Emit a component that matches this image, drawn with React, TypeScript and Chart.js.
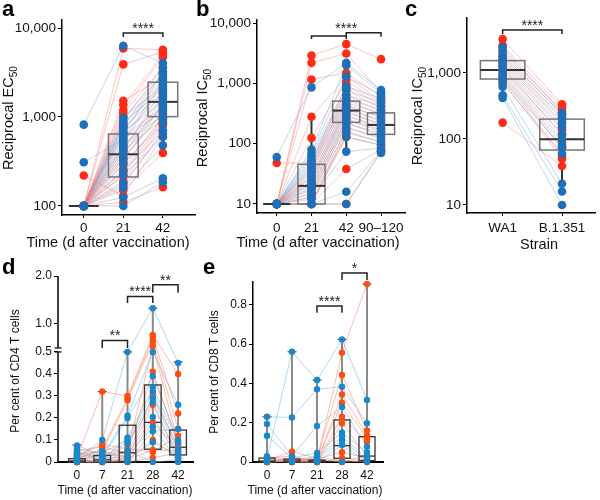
import React, { useEffect, useRef } from "react";
import { Chart, registerables } from "chart.js";
Chart.register(...registerables);

const FONT = "'Liberation Sans', Arial, Helvetica, sans-serif";

// ---------------- Panel a : reciprocal EC50 ----------------
const aTimes = ["0", "21", "42"];
const aRed0 = [100, 100, 100, 100, 100, 100, 100, 100, 100, 100, 100, 100, 100, 100, 100, 100, 100, 100, 100, 100, 100, 100, 220, 100];
const aRed21 = [5900, 3900, 1520, 1360, 1200, 1100, 1000, 800, 650, 560, 480, 420, 380, 350, 320, 290, 260, 240, 220, 190, 170, 150, 130, 110];
const aRed42 = [5700, 5400, 2800, 5000, 4700, 3600, 2200, 3200, 1800, 2500, 1250, 2000, 1600, 1100, 1400, 950, 1000, 900, 850, 800, 700, 395, 600, 163];
const aBlue0 = [820, 100, 100, 100, 100, 100, 100, 100, 100, 100, 310, 100, 100, 100, 100, 100, 100, 100, 100, 100, 100, 100, 100, 100];
const aBlue21 = [6300, 980, 900, 850, 800, 760, 720, 680, 640, 600, 560, 520, 480, 450, 420, 380, 340, 300, 250, 220, 180, 160, 125, 100];
const aBlue42 = [4050, 3000, 3600, 2100, 2700, 1900, 2500, 1500, 3200, 1300, 1200, 2300, 1050, 1700, 950, 1400, 1150, 850, 700, 600, 650, 480, 205, 185];
const aQ1 = [100, 212, 1010];
const aMed = [100, 381, 1480];
const aQ3 = [100, 645, 2460];
const aLo = [100, 100, 420];
const aHi = [100, 1550, 5800];
const aTickVals = [100, 1000, 10000];
const aTickLabels = ["100", "1,000", "10,000"];

// ---------------- Panel b : reciprocal IC50 ----------------
const bTimes = ["0", "21", "42", "90\u2013120"];
const bRed0 = [10, 10, 10, 10, 10, 48, 10, 10, 10, 10, 10, 10, 10, 10, 10, 10, 10, 10, 10, 10];
const bRed21 = [2900, 2200, 1160, 280, 125, 48, 42, 38, 33, 28, 24, 22, 18, 15, 13, 10, 10, 10, 10, 10];
const bRed42 = [4500, 3150, 1500, 1300, 1100, 950, 800, 650, 550, 450, 400, 350, 300, 260, 220, 180, 150, 130, 38, 10];
const bRed90 = [2530, 700, 600, 520, 480, 420, 380, 340, 300, 270, 240, 210, 190, 170, 150, 130, 110, 95, 80, 75];
const bBlue0 = [60, 10, 10, 10, 10, 10, 10, 10, 10, 10, 10, 10, 10, 10, 10, 10, 10, 10, 10, 10];
const bBlue21 = [860, 80, 70, 62, 55, 50, 45, 40, 35, 30, 27, 24, 21, 19, 17, 15, 13, 12, 10, 10];
const bBlue42 = [2200, 2000, 1300, 900, 780, 650, 560, 480, 420, 370, 330, 290, 250, 220, 190, 160, 130, 74, 16, 10];
const bBlue90 = [780, 700, 650, 560, 480, 420, 360, 320, 280, 240, 210, 180, 160, 140, 120, 105, 95, 85, 75, 70];
const bQ1 = [10, 10, 226, 143];
const bMed = [10, 20, 355, 205];
const bQ3 = [10, 45.5, 510, 325];
const bLo = [10, 10, 74, 70];
const bHi = [10, 270, 2200, 780];
const bTickVals = [10, 100, 1000, 10000];
const bTickLabels = ["10", "100", "1,000", "10,000"];

// ---------------- Panel c : strain ----------------
const cStrains = ["WA1", "B.1.351"];
const cRedWA1 = [3260, 2600, 2200, 1900, 1700, 1500, 1300, 1150, 1000, 900, 840, 760, 177];
const cRedB = [335, 300, 270, 240, 200, 170, 137, 120, 90, 73, 55, 50, 39];
const cBlueWA1 = [2450, 2100, 1800, 1600, 1400, 1250, 1100, 950, 800, 700, 620, 460, 420];
const cBlueB = [250, 230, 210, 180, 150, 115, 100, 80, 75, 60, 21, 16, 10];
const cQ1 = [810, 68];
const cMed = [1110, 99];
const cQ3 = [1540, 200];
const cLo = [420, 18];
const cHi = [3260, 335];
const cTickVals = [10, 100, 1000];
const cTickLabels = ["10", "100", "1,000"];

// ---------------- Panel d : CD4 T cells ----------------
const dTimes = ["0", "7", "21", "28", "42"];
const dRed0 = [0.02, 0.01, 0.03, 0.0, 0.05, 0.02, 0.01, 0.0, 0.03, 0.0, 0.04, 0.01];
const dRed7 = [0.32, 0.06, 0.05, 0.04, 0.07, 0.03, 0.02, 0.01, 0.08, 0.0, 0.05, 0.0];
const dRed21 = [0.3, 0.29, 0.28, 0.05, 0.04, 0.03, 0.02, 0.01, 0.06, 0.0, 0.02, 0.01];
const dRed28 = [0.77, 0.71, 0.63, 0.54, 0.41, 0.3, 0.18, 0.055, 0.045, 0.02, 0.26, 0.1];
const dRed42 = [0.4, 0.22, 0.15, 0.09, 0.08, 0.07, 0.06, 0.05, 0.12, 0.04, 0.03, 0.02];
const dBlue0 = [0.02, 0.075, 0.05, 0.03, 0.06, 0.04, 0.01, 0.0, 0.02, 0.0, 0.035, 0.015];
const dBlue7 = [0.1, 0.03, 0.02, 0.01, 0.04, 0.02, 0.0, 0.01, 0.05, 0.0, 0.02, 0.0];
const dBlue21 = [0.5, 0.21, 0.2, 0.11, 0.1, 0.09, 0.08, 0.03, 0.0, 0.01, 0.05, 0.02];
const dBlue28 = [1.33, 0.5, 0.39, 0.34, 0.32, 0.29, 0.27, 0.205, 0.14, 0.09, 0.0, 0.16];
const dBlue42 = [0.45, 0.26, 0.1, 0.09, 0.06, 0.05, 0.01, 0.02, 0.15, 0.03, 0.01, 0.0];
const dQ1 = [0, 0, 0, 0.058, 0.032];
const dMed = [0.005, 0.01, 0.042, 0.18, 0.067];
const dQ3 = [0.015, 0.03, 0.167, 0.35, 0.145];
const dLo = [0, 0, 0, 0, 0];
const dHi = [0.077, 0.32, 0.5, 1.33, 0.455];
const dTickVals = [0, 0.1, 0.2, 0.3, 0.4, 0.5, 1.0, 2.0];
const dTickLabels = ["0", "0.1", "0.2", "0.3", "0.4", "0.5", "1.0", "2.0"];

// ---------------- Panel e : CD8 T cells ----------------
const eTimes = ["0", "7", "21", "28", "42"];
const eRed0 = [0.0, 0.01, 0.02, 0.005, 0.0, 0.015, 0.0, 0.01, 0.0, 0.005];
const eRed7 = [0.01, 0.052, 0.03, 0.02, 0.01, 0.0, 0.005, 0.0, 0.015, 0.0];
const eRed21 = [0.01, 0.02, 0.0, 0.01, 0.005, 0.0, 0.015, 0.0, 0.005, 0.01];
const eRed28 = [0.556, 0.443, 0.344, 0.302, 0.23, 0.197, 0.05, 0.02, 0.01, 0.0];
const eRed42 = [0.906, 0.16, 0.137, 0.12, 0.103, 0.03, 0.02, 0.01, 0.0, 0.005];
const eBlue0 = [0.02, 0.23, 0.193, 0.134, 0.03, 0.01, 0.0, 0.02];
const eBlue7 = [0.561, 0.227, 0.03, 0.02, 0.01, 0.0, 0.015, 0.005];
const eBlue21 = [0.417, 0.37, 0.183, 0.046, 0.02, 0.01, 0.0, 0.03];
const eBlue28 = [0.624, 0.383, 0.28, 0.15, 0.13, 0.11, 0.087, 0.0];
const eBlue42 = [0.316, 0.197, 0.078, 0.05, 0.02, 0.01, 0.0, 0.03];
const eQ1 = [0, 0, 0, 0.019, 0.007];
const eMed = [0.005, 0.005, 0.005, 0.083, 0.03];
const eQ3 = [0.02, 0.015, 0.01, 0.214, 0.129];
const eLo = [0, 0, 0, 0, 0];
const eHi = [0.23, 0.561, 0.417, 0.624, 0.906];
const eTickVals = [0, 0.2, 0.4, 0.6, 0.8];
const eTickLabels = ["0", "0.2", "0.4", "0.6", "0.8"];

// broken-axis transform for panel d (linear below 0.5, compressed above)
const D_GAP = 0.018;
const D_K = 0.218;
const dMap = (v: number) => (v <= 0.5 ? v : 0.5 + D_GAP + (v - 0.5) * D_K);
const ident = (v: number) => v;

type Bracket = { from: number; to: number; y: number; drop: number; text: string; textAt?: number };
type Spec = {
  left: number; top: number; width: number; height: number;
  area: { l: number; t: number; r: number; b: number };
  xLabels: string[]; xMin: number; xMax: number; xTickPad: number;
  yLog: boolean; yMin: number; yMax: number; yTickVals: number[]; yTickLabels: string[];
  yMap: (v: number) => number; broken?: boolean;
  red: number[][]; blue: number[][];
  q1: number[]; med: number[]; q3: number[]; lo: number[]; hi: number[];
  boxW: number; style: "top" | "bottom";
  brackets: Bracket[];
  letter: string; letterXY: [number, number];
  yTitle: string; yTitleSub: string; yTitleXY: [number, number];
  xTitle: string; xTitleXY: [number, number];
  tickSize: number; titleSize: number;
  ptR: number; redColor: string; blueColor: string; redLine: string; blueLine: string;
};

const TOP_RED = "#FF2B14";
const TOP_BLUE = "#1D6FB8";
const TOP_RED_LINE = "rgba(250,120,110,0.42)";
const TOP_BLUE_LINE = "rgba(100,165,220,0.42)";
const BOT_RED = "#FF4D12";
const BOT_BLUE = "#1B87CB";
const BOT_RED_LINE = "rgba(250,135,105,0.55)";
const BOT_BLUE_LINE = "rgba(120,190,232,0.6)";

const specs: Spec[] = [
  {
    left: 0, top: 0, width: 200, height: 250, area: { l: 62, t: 20, r: 197, b: 215 },
    xLabels: aTimes, xMin: -0.55, xMax: 2.83, xTickPad: 2,
    yLog: true, yMin: 79.2, yMax: 12300, yTickVals: aTickVals, yTickLabels: aTickLabels, yMap: ident,
    red: [aRed0, aRed21, aRed42], blue: [aBlue0, aBlue21, aBlue42],
    q1: aQ1, med: aMed, q3: aQ3, lo: aLo, hi: aHi, boxW: 0.75, style: "top",
    brackets: [{ from: 1, to: 2, y: 8790, drop: 4, text: "****" }],
    letter: "a", letterXY: [2, 16],
    yTitle: "Reciprocal EC", yTitleSub: "50", yTitleXY: [9, 118],
    xTitle: "Time (d after vaccination)", xTitleXY: [108, 243],
    tickSize: 13.5, titleSize: 14.5,
    ptR: 4.3, redColor: TOP_RED, blueColor: TOP_BLUE, redLine: TOP_RED_LINE, blueLine: TOP_BLUE_LINE,
  },
  {
    left: 190, top: 0, width: 220, height: 250, area: { l: 67, t: 20, r: 218, b: 213 },
    xLabels: bTimes, xMin: -0.567, xMax: 3.71, xTickPad: 4,
    yLog: true, yMin: 7.09, yMax: 11300, yTickVals: bTickVals, yTickLabels: bTickLabels, yMap: ident,
    red: [bRed0, bRed21, bRed42, bRed90], blue: [bBlue0, bBlue21, bBlue42, bBlue90],
    q1: bQ1, med: bMed, q3: bQ3, lo: bLo, hi: bHi, boxW: 0.78, style: "top",
    brackets: [
      { from: 1, to: 2, y: 6110, drop: 3, text: "" },
      { from: 2, to: 3, y: 6920, drop: 4, text: "****", textAt: 2 },
    ],
    letter: "b", letterXY: [6, 16],
    yTitle: "Reciprocal IC", yTitleSub: "50", yTitleXY: [13, 118],
    xTitle: "Time (d after vaccination)", xTitleXY: [128, 243],
    tickSize: 13.5, titleSize: 14.5,
    ptR: 4.3, redColor: TOP_RED, blueColor: TOP_BLUE, redLine: TOP_RED_LINE, blueLine: TOP_BLUE_LINE,
  },
  {
    left: 400, top: 0, width: 200, height: 250, area: { l: 67, t: 18, r: 197, b: 213 },
    xLabels: cStrains, xMin: -0.6, xMax: 1.567, xTickPad: 4,
    yLog: true, yMin: 7.56, yMax: 6810, yTickVals: cTickVals, yTickLabels: cTickLabels, yMap: ident,
    red: [cRedWA1, cRedB], blue: [cBlueWA1, cBlueB],
    q1: cQ1, med: cMed, q3: cQ3, lo: cLo, hi: cHi, boxW: 0.75, style: "top",
    brackets: [{ from: 0, to: 1, y: 4480, drop: 4, text: "****" }],
    letter: "c", letterXY: [5, 16],
    yTitle: "Reciprocal IC", yTitleSub: "50", yTitleXY: [18, 116],
    xTitle: "Strain", xTitleXY: [139, 245],
    tickSize: 13.5, titleSize: 14.5,
    ptR: 4.3, redColor: TOP_RED, blueColor: TOP_BLUE, redLine: TOP_RED_LINE, blueLine: TOP_BLUE_LINE,
  },
  {
    left: 0, top: 250, width: 200, height: 250, area: { l: 58, t: 26, r: 193, b: 212 },
    xLabels: dTimes, xMin: -0.75, xMax: 4.59, xTickPad: 3,
    yLog: false, yMin: 0, yMax: dMap(2.0), yTickVals: dTickVals, yTickLabels: dTickLabels, yMap: dMap, broken: true,
    red: [dRed0, dRed7, dRed21, dRed28, dRed42], blue: [dBlue0, dBlue7, dBlue21, dBlue28, dBlue42],
    q1: dQ1, med: dMed, q3: dQ3, lo: dLo, hi: dHi, boxW: 0.66, style: "bottom",
    brackets: [
      { from: 1, to: 2, y: 0.656, drop: 7.5, text: "**" },
      { from: 2, to: 3, y: 1.573, drop: 6.5, text: "****" },
      { from: 3, to: 4, y: 1.817, drop: 8, text: "**" },
    ],
    letter: "d", letterXY: [2, 24],
    yTitle: "Per cent of CD4 T cells", yTitleSub: "", yTitleXY: [16, 121],
    xTitle: "Time (d after vaccination)", xTitleXY: [125, 241],
    tickSize: 12, titleSize: 12,
    ptR: 3.2, redColor: BOT_RED, blueColor: BOT_BLUE, redLine: BOT_RED_LINE, blueLine: BOT_BLUE_LINE,
  },
  {
    left: 195, top: 250, width: 205, height: 250, area: { l: 58, t: 32, r: 188, b: 212 },
    xLabels: eTimes, xMin: -0.56, xMax: 4.64, xTickPad: 3,
    yLog: false, yMin: 0, yMax: 0.916, yTickVals: eTickVals, yTickLabels: eTickLabels, yMap: ident,
    red: [eRed0, eRed7, eRed21, eRed28, eRed42], blue: [eBlue0, eBlue7, eBlue21, eBlue28, eBlue42],
    q1: eQ1, med: eMed, q3: eQ3, lo: eLo, hi: eHi, boxW: 0.64, style: "bottom",
    brackets: [
      { from: 2, to: 3, y: 0.794, drop: 6.7, text: "****" },
      { from: 3, to: 4, y: 0.962, drop: 7, text: "*" },
    ],
    letter: "e", letterXY: [8, 24],
    yTitle: "Per cent of CD8 T cells", yTitleSub: "", yTitleXY: [20, 122],
    xTitle: "Time (d after vaccination)", xTitleXY: [120, 241],
    tickSize: 12, titleSize: 12,
    ptR: 3.2, redColor: BOT_RED, blueColor: BOT_BLUE, redLine: BOT_RED_LINE, blueLine: BOT_BLUE_LINE,
  },
];

function line(ctx: CanvasRenderingContext2D, x1: number, y1: number, x2: number, y2: number) {
  ctx.beginPath();
  ctx.moveTo(x1, y1);
  ctx.lineTo(x2, y2);
  ctx.stroke();
}

function Panel({ s }: { s: Spec }) {
  const ref = useRef<HTMLCanvasElement>(null);
  useEffect(() => {
    const canvas = ref.current!;
    const datasets: any[] = [];
    const addLines = (ser: number[][], color: string) => {
      const n = ser[0].length;
      for (let i = 0; i < n; i++) {
        datasets.push({
          data: ser.map((arr, k) => ({ x: k, y: s.yMap(arr[i]) })),
          showLine: true, borderColor: color, borderWidth: 1, pointRadius: 0, pointHoverRadius: 0,
          clip: false, order: 5,
        });
      }
    };
    addLines(s.red, s.redLine);
    addLines(s.blue, s.blueLine);
    const pts = (ser: number[][]) => ser.flatMap((arr, k) => arr.map((v) => ({ x: k, y: s.yMap(v) })));
    const redIdx = datasets.length;
    datasets.push({ data: pts(s.red), backgroundColor: s.redColor, pointRadius: s.ptR, pointBorderWidth: 0, borderWidth: 0, clip: false, order: 1 });
    datasets.push({ data: pts(s.blue), backgroundColor: s.blueColor, pointRadius: s.ptR, pointBorderWidth: 0, borderWidth: 0, clip: false, order: 0 });

    const drawBoxes = (chart: any) => {
      const ctx: CanvasRenderingContext2D = chart.ctx;
      const x = chart.scales.x;
      const y = chart.scales.y;
      const Y = (v: number) => y.getPixelForValue(s.yMap(v));
      ctx.save();
      s.med.forEach((m, i) => {
        const cx = x.getPixelForValue(i);
        const hw = x.getPixelForValue(i + s.boxW / 2) - cx;
        const yq1 = Y(s.q1[i]), yq3 = Y(s.q3[i]), ym = Y(m), ylo = Y(s.lo[i]), yhi = Y(s.hi[i]);
        if (s.style === "top") {
          ctx.strokeStyle = "#333"; ctx.lineWidth = 2;
          if (yhi < yq3) line(ctx, cx, yq3, cx, yhi);
          if (ylo > yq1) line(ctx, cx, yq1, cx, ylo);
          ctx.strokeStyle = "#757575"; ctx.lineWidth = 1.5;
          ctx.strokeRect(cx - hw, yq3, 2 * hw, yq1 - yq3);
          ctx.strokeStyle = "#333"; ctx.lineWidth = 2;
          line(ctx, cx - hw, ym, cx + hw, ym);
        } else {
          ctx.strokeStyle = "#8a8a8a"; ctx.lineWidth = 2;
          line(ctx, cx, ylo, cx, yhi);
          ctx.strokeStyle = "#555"; ctx.lineWidth = 1.2;
          line(ctx, cx - 4.5, yhi, cx + 4.5, yhi);
          ctx.strokeStyle = "#333"; ctx.lineWidth = 1.3;
          ctx.strokeRect(cx - hw, yq3, 2 * hw, yq1 - yq3);
          line(ctx, cx - hw, ym, cx + hw, ym);
        }
      });
      ctx.restore();
    };

    const plugin = {
      id: "extras" + s.letter,
      beforeDatasetDraw(chart: any, args: any) {
        if (args.index === redIdx) drawBoxes(chart);
      },
      afterDraw(chart: any) {
        const ctx: CanvasRenderingContext2D = chart.ctx;
        const x = chart.scales.x;
        const y = chart.scales.y;
        ctx.save();
        if (s.broken) {
          const ax = chart.chartArea.left;
          ctx.strokeStyle = "#000"; ctx.lineWidth = 1.5;
          const yb = y.getPixelForValue(0), y05 = y.getPixelForValue(0.5);
          const yg = y.getPixelForValue(0.5 + D_GAP), ytop = y.getPixelForValue(dMap(2.0));
          line(ctx, ax, yb, ax, y05);
          line(ctx, ax, yg, ax, ytop);
          ctx.lineWidth = 1.2;
          line(ctx, ax - 3.5, y05, ax + 3.5, y05);
          line(ctx, ax - 3.5, yg, ax + 3.5, yg);
        }
        for (const br of s.brackets) {
          const x1 = x.getPixelForValue(br.from), x2 = x.getPixelForValue(br.to);
          const yy = y.getPixelForValue(s.yMap(br.y));
          ctx.strokeStyle = "#222"; ctx.lineWidth = 1.5;
          ctx.beginPath();
          ctx.moveTo(x1, yy + br.drop); ctx.lineTo(x1, yy); ctx.lineTo(x2, yy); ctx.lineTo(x2, yy + br.drop);
          ctx.stroke();
          if (br.text) {
            ctx.fillStyle = "#222";
            ctx.font = `14px ${FONT}`;
            ctx.textAlign = "center"; ctx.textBaseline = "alphabetic";
            ctx.fillText(br.text, x.getPixelForValue(br.textAt ?? (br.from + br.to) / 2), yy);
          }
        }
        ctx.fillStyle = "#000";
        ctx.font = `bold 22px ${FONT}`;
        ctx.textAlign = "left"; ctx.textBaseline = "alphabetic";
        ctx.fillText(s.letter, s.letterXY[0], s.letterXY[1]);
        ctx.fillStyle = "#111";
        ctx.font = `${s.titleSize}px ${FONT}`;
        ctx.textAlign = "center"; ctx.textBaseline = "middle";
        ctx.fillText(s.xTitle, s.xTitleXY[0], s.xTitleXY[1]);
        ctx.translate(s.yTitleXY[0], s.yTitleXY[1]);
        ctx.rotate(-Math.PI / 2);
        const subSize = s.titleSize * 0.7;
        ctx.font = `${s.titleSize}px ${FONT}`;
        const wM = ctx.measureText(s.yTitle).width;
        ctx.font = `${subSize}px ${FONT}`;
        const wS = s.yTitleSub ? ctx.measureText(s.yTitleSub).width : 0;
        const start = -(wM + wS) / 2;
        ctx.textAlign = "left"; ctx.textBaseline = "middle";
        ctx.font = `${s.titleSize}px ${FONT}`;
        ctx.fillText(s.yTitle, start, 0);
        if (s.yTitleSub) {
          ctx.font = `${subSize}px ${FONT}`;
          ctx.fillText(s.yTitleSub, start + wM, s.titleSize * 0.35);
        }
        ctx.restore();
      },
    };

    const chart = new Chart(canvas, {
      type: "scatter",
      data: { datasets },
      options: {
        animation: false,
        responsive: false,
        events: [],
        layout: { padding: { left: 0, top: s.area.t, right: s.width - s.area.r, bottom: 0 } },
        plugins: { legend: { display: false }, tooltip: { enabled: false } },
        scales: {
          x: {
            type: "linear", min: s.xMin, max: s.xMax,
            afterBuildTicks: (sc: any) => { sc.ticks = s.xLabels.map((_, i) => ({ value: i })); },
            afterFit: (sc: any) => { sc.height = s.height - s.area.b; },
            ticks: {
              callback: (_v: any, i: number) => s.xLabels[i],
              color: "#111", font: { family: FONT, size: s.tickSize }, padding: s.xTickPad,
              maxRotation: 0, autoSkip: false,
            },
            grid: { drawOnChartArea: false, drawTicks: true, tickLength: 3, color: "#000", lineWidth: 1 },
            border: { display: true, color: "#000", width: s.style === "top" ? 1.5 : 2 },
          },
          y: {
            type: s.yLog ? "logarithmic" : "linear", min: s.yMin, max: s.yMax,
            afterBuildTicks: (sc: any) => { sc.ticks = s.yTickVals.map((v) => ({ value: s.yMap(v) })); },
            afterFit: (sc: any) => { sc.width = s.area.l; },
            ticks: {
              callback: (_v: any, i: number) => s.yTickLabels[i],
              color: "#111", font: { family: FONT, size: s.tickSize }, padding: 2, autoSkip: false,
            },
            grid: { drawOnChartArea: false, drawTicks: true, tickLength: 4, color: "#000", lineWidth: 1 },
            border: { display: !s.broken, color: "#000", width: 1.5 },
          },
        },
      } as any,
      plugins: [plugin],
    });
    return () => chart.destroy();
  }, []);
  return (
    <canvas
      ref={ref}
      width={s.width}
      height={s.height}
      style={{ position: "absolute", left: s.left, top: s.top, width: s.width, height: s.height }}
    />
  );
}

export default function App() {
  return (
    <div style={{ position: "absolute", left: 0, top: 0, width: 600, height: 500, background: "#fff", overflow: "hidden" }}>
      {specs.map((s) => (
        <Panel key={s.letter} s={s} />
      ))}
    </div>
  );
}
